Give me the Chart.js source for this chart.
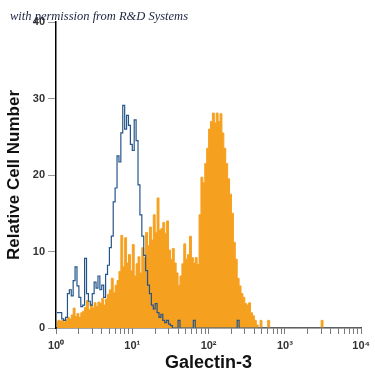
<!DOCTYPE html>
<html><head><meta charset="utf-8">
<script src="https://cdn.jsdelivr.net/npm/chart.js@4.4.1/dist/chart.umd.min.js"></script>
<style>html,body{margin:0;padding:0;background:#fff;}#wrap{width:375px;height:375px;position:relative;}</style>
</head><body><div id="wrap"><canvas id="c" width="375" height="375"></canvas></div>
<script>
// histogram channels: 40 bins per decade, from 10^0 to 10^4
const BINS_PER_DECADE = 40;

// Galectin-3 antibody (orange, filled)
const orangeCounts = [
  0.8, 1.0, 0.9, 1.0, 0.8, 1.1, 1.4, 1.2, 1.7, 2.6,
  1.5, 1.9, 1.4, 2.0, 2.2, 2.7, 3.6, 2.4, 3.0, 2.6,
  3.3, 2.8, 3.4, 3.2, 3.9, 3.0, 3.8, 4.4, 5.0, 6.5,
  4.6, 5.6, 6.2, 7.4, 12.1, 8.0, 11.8, 8.5, 9.6, 7.5,
  10.9, 6.8, 8.4, 9.3, 7.2, 10.5, 9.2, 12.5, 10.8, 13.2,
  11.5, 14.8, 12.5, 17.0, 12.8, 13.0, 13.8, 12.4, 14.0, 10.2,
  9.0, 10.4, 8.5, 7.2, 5.6, 6.8, 8.4, 11.0, 9.0, 9.6,
  12.0, 9.2, 8.5, 9.2, 8.3, 14.8, 19.7, 19.0, 21.5, 23.5,
  26.0, 27.0, 28.1, 26.8, 28.1, 27.0, 28.0, 25.5, 23.5, 21.5,
  19.5, 17.5, 15.0, 11.2, 9.0, 6.5, 5.5, 4.5, 4.0, 3.2,
  3.0, 3.3, 2.0, 1.6, 1.0, 0.4, 0, 1.0, 0, 0,
  0, 1.0, 0, 0, 0, 0, 0, 0, 0, 0,
  0, 0, 0, 0, 0, 0, 0, 0, 0, 0,
  0, 0, 0, 0, 0, 0, 0, 0, 0, 1.0,
  0, 0, 0, 0, 0, 0, 0, 0, 0, 0,
  0, 0, 0, 0, 0, 0, 0, 0, 0, 0
];

// isotype control (blue outline)
const blueCounts = [
  2.0, 2.0, 2.0, 1.2, 1.0, 1.4, 4.5, 5.0, 4.2, 6.2,
  8.0, 5.5, 4.0, 2.8, 3.0, 9.1, 4.5, 3.5, 3.0, 4.5,
  6.0, 5.2, 6.8, 5.0, 5.6, 4.0, 7.0, 8.2, 10.5, 12.0,
  16.5, 18.3, 22.5, 21.7, 25.5, 29.1, 26.0, 27.8, 26.5, 24.0,
  23.2, 27.2, 24.5, 18.7, 14.8, 12.0, 9.5, 7.5, 5.6, 4.5,
  3.0, 2.5, 3.2, 2.0, 1.4, 1.8, 1.0, 0.7, 1.0, 0.5,
  0.3, 0, 0, 0, 1.0, 0, 0, 0, 0, 0,
  0, 0, 1.0, 0, 0, 0, 0, 0, 0, 0,
  0, 0, 0, 0, 0, 0, 0, 0, 0, 0,
  0, 0, 0, 0, 0, 1.0, 0, 0, 0, 0,
  0, 0, 0, 0, 0, 0, 0, 0, 0, 0,
  0, 0, 0, 0, 0, 0, 0, 0, 0, 0,
  0, 0, 0, 0, 0, 0, 0, 0, 0, 0,
  0, 0, 0, 0, 0, 0, 0, 0, 0, 0,
  0, 0, 0, 0, 0, 0, 0, 0, 0, 0,
  0, 0, 0, 0, 0, 0, 0, 0, 0, 0
];

const xMajorTicks = [1, 10, 100, 1000, 10000];
const xTickLabels = ['10\u2070', '10\u00B9', '10\u00B2', '10\u00B3', '10\u2074'];
const xMinorMultipliers = [2, 3, 4, 5, 6, 7, 8, 9];
const yTicks = [0, 10, 20, 30, 40];
const xTitle = 'Galectin-3';
const yTitle = 'Relative Cell Number';
const credit = 'with permission from R&D Systems';

function binCenter(i) { return Math.pow(10, (i + 0.5) / BINS_PER_DECADE); }
const toPoints = arr => arr.map((v, i) => ({ x: binCenter(i), y: v }));

const allXTicks = [];
xMajorTicks.forEach((m, k) => {
  allXTicks.push(m);
  if (k < xMajorTicks.length - 1) xMinorMultipliers.forEach(f => allXTicks.push(m * f));
});

const creditPlugin = {
  id: 'credit',
  afterDraw(chart) {
    const ctx = chart.ctx;
    ctx.save();
    ctx.font = 'italic 12.5px "Liberation Serif", "DejaVu Serif", serif';
    ctx.fillStyle = '#1c2440';
    ctx.textBaseline = 'alphabetic';
    ctx.fillText(credit, 10, 20);
    ctx.restore();
  }
};

const tickFont = { family: '"Liberation Sans", Arial, sans-serif', size: 11, weight: 'bold' };

new Chart(document.getElementById('c'), {
  type: 'line',
  data: {
    datasets: [
      {
        label: 'control',
        data: toPoints(blueCounts),
        stepped: 'middle',
        borderColor: '#24558a',
        borderWidth: 1.2,
        fill: false,
        pointRadius: 0,
        order: 0
      },
      {
        label: 'Galectin-3',
        data: toPoints(orangeCounts),
        stepped: 'middle',
        borderColor: '#f6a020',
        backgroundColor: '#f6a020',
        borderWidth: 1,
        fill: 'origin',
        pointRadius: 0,
        order: 1
      }
    ]
  },
  options: {
    responsive: false,
    animation: false,
    devicePixelRatio: 1,
    layout: { padding: { left: 4, right: 12, top: 22, bottom: 0 } },
    plugins: { legend: { display: false }, tooltip: { enabled: false } },
    scales: {
      x: {
        type: 'logarithmic',
        min: 1,
        max: 10000,
        afterBuildTicks: (scale) => { scale.ticks = allXTicks.map(v => ({ value: v })); },
        afterFit: (scale) => { scale.height = 47; },
        grid: { drawOnChartArea: false, drawTicks: true, tickLength: 6, tickColor: '#7a7a7a', tickWidth: 1 },
        border: { display: true, color: '#4a4a4a', width: 1.5 },
        ticks: {
          autoSkip: false,
          maxRotation: 0,
          padding: 5,
          color: '#333',
          font: tickFont,
          callback: (v) => { const k = xMajorTicks.indexOf(v); return k >= 0 ? xTickLabels[k] : ''; }
        },
        title: {
          display: true,
          text: xTitle,
          color: '#111',
          font: { family: '"Liberation Sans", Arial, sans-serif', size: 18, weight: 'bold' },
          padding: { top: 0, bottom: 1 }
        }
      },
      y: {
        min: 0,
        max: 40,
        afterBuildTicks: (scale) => { scale.ticks = yTicks.map(v => ({ value: v })); },
        afterFit: (scale) => { scale.width = 52; },
        grid: { drawOnChartArea: false, drawTicks: true, tickLength: 8, tickColor: '#999', tickWidth: 1 },
        border: { display: true, color: '#000', width: 1.5 },
        ticks: { padding: 3, color: '#333', font: tickFont },
        title: {
          display: true,
          text: yTitle,
          color: '#111',
          font: { family: '"Liberation Sans", Arial, sans-serif', size: 17, weight: 'bold' },
          padding: { top: 0, bottom: 0 }
        }
      }
    }
  },
  plugins: [creditPlugin]
});
</script></body></html>
